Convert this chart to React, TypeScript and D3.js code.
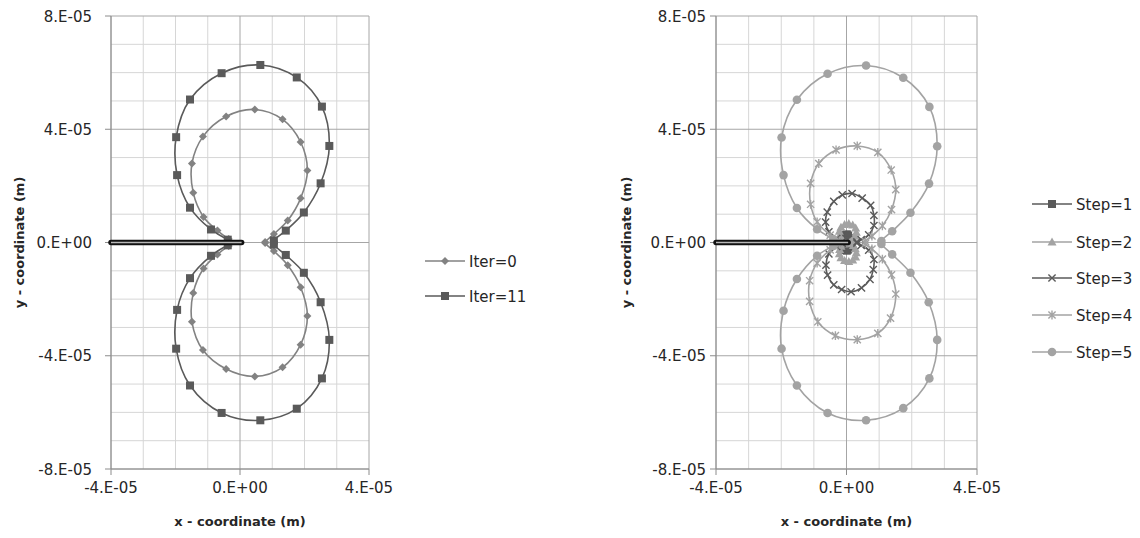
import * as d3 from 'd3';
import { useEffect, useRef } from 'react';

type Pt = [number, number];

// all coordinates are in units of 1E-05 m
const xTicks = [-4, 0, 4];
const xTickLabels = ['-4.E-05', '0.E+00', '4.E-05'];
const yTicks = [8, 4, 0, -4, -8];
const yTickLabels = ['8.E-05', '4.E-05', '0.E+00', '-4.E-05', '-8.E-05'];

const crack: Pt[] = [[-4, 0], [0.05, 0]];

const iter0: Pt[] = [
  [-0.35, 0.12], [-0.7, 0.42], [-1.13, 0.9], [-1.45, 1.76], [-1.49, 2.79], [-1.15, 3.74], [-0.43, 4.45], [0.46, 4.7],
  [1.32, 4.35], [1.88, 3.55], [2.09, 2.54], [1.88, 1.56], [1.48, 0.78], [1.05, 0.3], [0.78, 0.02],
  [0.78, -0.02], [1.05, -0.3], [1.48, -0.8], [1.88, -1.58], [2.09, -2.6], [1.88, -3.61], [1.32, -4.41], [0.46, -4.73],
  [-0.43, -4.47], [-1.15, -3.8], [-1.49, -2.8], [-1.45, -1.78], [-1.13, -0.92], [-0.7, -0.42], [-0.35, -0.12]
];

const iter11: Pt[] = [
  [-0.38, 0.1], [-0.9, 0.46], [-1.55, 1.23], [-1.95, 2.38], [-1.98, 3.72], [-1.55, 5.05], [-0.57, 5.98], [0.63, 6.27],
  [1.76, 5.83], [2.54, 4.8], [2.77, 3.41], [2.5, 2.09], [1.98, 1.06], [1.42, 0.42], [1.05, 0.07],
  [1.05, -0.07], [1.42, -0.44], [1.98, -1.07], [2.5, -2.11], [2.77, -3.44], [2.54, -4.8], [1.76, -5.87], [0.63, -6.28],
  [-0.57, -6.02], [-1.55, -5.05], [-1.98, -3.75], [-1.95, -2.38], [-1.55, -1.26], [-0.9, -0.47], [-0.38, -0.1]
];

const step1: Pt[] = [
  [-0.01, 0.01], [-0.04, 0.08], [-0.06, 0.18], [-0.04, 0.26], [0.01, 0.29], [0.05, 0.25], [0.07, 0.16], [0.05, 0.07], [0.02, 0.01],
  [0.02, -0.01], [0.05, -0.07], [0.07, -0.16], [0.05, -0.25], [0.01, -0.29], [-0.04, -0.26], [-0.06, -0.18], [-0.04, -0.08], [-0.01, -0.01]
];

const step2: Pt[] = [
  [-0.04, 0.01], [-0.1, 0.05], [-0.17, 0.13], [-0.21, 0.25], [-0.22, 0.4], [-0.17, 0.54], [-0.06, 0.64], [0.07, 0.67],
  [0.19, 0.62], [0.28, 0.51], [0.3, 0.36], [0.27, 0.22], [0.21, 0.11], [0.15, 0.04], [0.11, 0.01],
  [0.11, -0.01], [0.15, -0.04], [0.21, -0.11], [0.27, -0.22], [0.3, -0.36], [0.28, -0.51], [0.19, -0.62], [0.07, -0.67],
  [-0.06, -0.64], [-0.17, -0.54], [-0.22, -0.4], [-0.21, -0.25], [-0.17, -0.13], [-0.1, -0.05], [-0.04, -0.01]
];

const step3: Pt[] = [
  [-0.13, 0.03], [-0.3, 0.14], [-0.54, 0.38], [-0.64, 0.72], [-0.59, 1.07], [-0.39, 1.45], [-0.13, 1.68], [0.17, 1.73],
  [0.48, 1.57], [0.74, 1.31], [0.84, 0.96], [0.84, 0.6], [0.68, 0.27], [0.45, 0.1], [0.32, 0.02],
  [0.32, -0.02], [0.45, -0.1], [0.68, -0.27], [0.84, -0.6], [0.82, -0.96], [0.72, -1.3], [0.46, -1.6], [0.14, -1.74],
  [-0.15, -1.66], [-0.39, -1.5], [-0.58, -1.15], [-0.63, -0.8], [-0.54, -0.4], [-0.3, -0.14], [-0.13, -0.03]
];

const step4: Pt[] = [
  [-0.22, 0.06], [-0.5, 0.26], [-0.9, 0.73], [-1.1, 1.35], [-1.1, 2.09], [-0.85, 2.79], [-0.32, 3.27], [0.33, 3.41],
  [0.96, 3.18], [1.37, 2.56], [1.51, 1.87], [1.38, 1.16], [1.1, 0.59], [0.78, 0.23], [0.58, 0.04],
  [0.58, -0.04], [0.78, -0.23], [1.1, -0.59], [1.38, -1.14], [1.51, -1.82], [1.35, -2.67], [0.96, -3.21], [0.33, -3.43],
  [-0.34, -3.29], [-0.88, -2.8], [-1.13, -2.08], [-1.13, -1.35], [-0.9, -0.73], [-0.5, -0.26], [-0.22, -0.06]
];

const step5: Pt[] = [
  [-0.4, 0.12], [-0.9, 0.47], [-1.52, 1.22], [-1.93, 2.38], [-1.99, 3.71], [-1.52, 5.04], [-0.58, 5.96], [0.6, 6.25],
  [1.74, 5.82], [2.54, 4.79], [2.78, 3.4], [2.53, 2.08], [1.96, 1.05], [1.4, 0.4], [1.07, 0.05],
  [1.07, -0.05], [1.4, -0.42], [1.96, -1.07], [2.52, -2.11], [2.78, -3.44], [2.54, -4.8], [1.74, -5.85], [0.6, -6.28],
  [-0.58, -6.02], [-1.52, -5.05], [-1.99, -3.75], [-1.93, -2.41], [-1.52, -1.29], [-0.9, -0.47], [-0.4, -0.12]
];

type Marker = 'diamond' | 'square' | 'triangle' | 'x' | 'star' | 'circle';

interface Series {
  name: string;
  data: Pt[];
  color: string;
  marker: Marker;
}

interface ChartCfg {
  left: number;
  right: number;
  labelX: number;
  titleX: number;
  legendX: number;
  legendY: number[];
  series: Series[];
}

const DARK = '#5a5a5a';
const MID = '#828282';
const LIGHT = '#a3a3a3';

const leftChart: ChartCfg = {
  left: 111,
  right: 369,
  labelX: 92,
  titleX: 19,
  legendX: 425,
  legendY: [261, 296],
  series: [
    { name: 'Iter=0', data: iter0, color: MID, marker: 'diamond' },
    { name: 'Iter=11', data: iter11, color: DARK, marker: 'square' }
  ]
};

const rightChart: ChartCfg = {
  left: 716,
  right: 977,
  labelX: 706,
  titleX: 626,
  legendX: 1032,
  legendY: [204, 242, 278, 315, 352],
  series: [
    { name: 'Step=1', data: step1, color: DARK, marker: 'square' },
    { name: 'Step=2', data: step2, color: LIGHT, marker: 'triangle' },
    { name: 'Step=3', data: step3, color: DARK, marker: 'x' },
    { name: 'Step=4', data: step4, color: LIGHT, marker: 'star' },
    { name: 'Step=5', data: step5, color: LIGHT, marker: 'circle' }
  ]
};

const TOP = 16;
const BOTTOM = 469;
const FONT = '"DejaVu Sans", sans-serif';

function drawMarker(
  g: d3.Selection<SVGGElement, unknown, null, undefined>,
  m: Marker,
  x: number,
  y: number,
  color: string
): void {
  if (m === 'square') {
    g.append('rect').attr('x', x - 4).attr('y', y - 4).attr('width', 8).attr('height', 8).attr('fill', color);
  } else if (m === 'diamond') {
    g.append('path')
      .attr('d', `M${x},${y - 4}L${x + 4},${y}L${x},${y + 4}L${x - 4},${y}Z`)
      .attr('fill', color);
  } else if (m === 'triangle') {
    g.append('path')
      .attr('d', `M${x},${y - 4.5}L${x + 4.5},${y + 3.5}L${x - 4.5},${y + 3.5}Z`)
      .attr('fill', color);
  } else if (m === 'circle') {
    g.append('circle').attr('cx', x).attr('cy', y).attr('r', 4.3).attr('fill', color);
  } else {
    const r = 3.6;
    let d = `M${x - r},${y - r}L${x + r},${y + r}M${x - r},${y + r}L${x + r},${y - r}`;
    if (m === 'star') d += `M${x},${y - r - 0.8}L${x},${y + r + 0.8}`;
    g.append('path').attr('d', d).attr('stroke', color).attr('stroke-width', 1.4).attr('fill', 'none');
  }
}

function drawChart(svgEl: SVGSVGElement, cfg: ChartCfg): void {
  const svg = d3.select(svgEl);
  const g = svg.append('g');

  const x = d3.scaleLinear().domain([-4, 4]).range([cfg.left, cfg.right]);
  const y = d3.scaleLinear().domain([-8, 8]).range([BOTTOM, TOP]);

  // minor gridlines first, then major
  const xs = d3.range(-4, 5);
  const ys = d3.range(-8, 9);
  const isMajor = (v: number) => v % 4 === 0;

  [false, true].forEach((major) => {
    xs.filter((v) => isMajor(v) === major).forEach((v) => {
      g.append('line')
        .attr('x1', x(v)).attr('x2', x(v))
        .attr('y1', TOP).attr('y2', BOTTOM)
        .attr('stroke', major ? '#a6a6a6' : '#d6d6d6')
        .attr('stroke-width', 1);
    });
    ys.filter((v) => isMajor(v) === major).forEach((v) => {
      g.append('line')
        .attr('x1', cfg.left).attr('x2', cfg.right)
        .attr('y1', y(v)).attr('y2', y(v))
        .attr('stroke', major ? '#a6a6a6' : '#d6d6d6')
        .attr('stroke-width', 1);
    });
  });

  // axis lines + ticks
  g.append('line').attr('x1', cfg.left).attr('x2', cfg.left).attr('y1', TOP).attr('y2', BOTTOM)
    .attr('stroke', '#8c8c8c');
  g.append('line').attr('x1', cfg.left).attr('x2', cfg.right).attr('y1', BOTTOM).attr('y2', BOTTOM)
    .attr('stroke', '#8c8c8c');

  yTicks.forEach((v, i) => {
    g.append('line').attr('x1', cfg.left - 6).attr('x2', cfg.left).attr('y1', y(v)).attr('y2', y(v))
      .attr('stroke', '#8c8c8c');
    g.append('text')
      .attr('x', cfg.labelX)
      .attr('y', y(v) + 5.5)
      .attr('text-anchor', 'end')
      .attr('font-family', FONT)
      .attr('font-size', '15px')
      .attr('fill', '#262626')
      .text(yTickLabels[i]);
  });

  xTicks.forEach((v, i) => {
    g.append('line').attr('x1', x(v)).attr('x2', x(v)).attr('y1', BOTTOM).attr('y2', BOTTOM + 6)
      .attr('stroke', '#8c8c8c');
    g.append('text')
      .attr('x', x(v))
      .attr('y', 493)
      .attr('text-anchor', 'middle')
      .attr('font-family', FONT)
      .attr('font-size', '15px')
      .attr('fill', '#262626')
      .text(xTickLabels[i]);
  });

  g.append('text')
    .attr('x', (cfg.left + cfg.right) / 2)
    .attr('y', 526)
    .attr('text-anchor', 'middle')
    .attr('font-family', FONT)
    .attr('font-size', '13px')
    .attr('font-weight', 'bold')
    .attr('fill', '#262626')
    .text('x - coordinate (m)');

  g.append('text')
    .attr('transform', `translate(${cfg.titleX + 5},${(TOP + BOTTOM) / 2}) rotate(-90)`)
    .attr('text-anchor', 'middle')
    .attr('font-family', FONT)
    .attr('font-size', '13px')
    .attr('font-weight', 'bold')
    .attr('fill', '#262626')
    .text('y - coordinate (m)');

  // series
  const lineGen = d3.line<Pt>()
    .x((d) => x(d[0]))
    .y((d) => y(d[1]))
    .curve(d3.curveCatmullRom.alpha(0.5));

  cfg.series.forEach((s) => {
    g.append('path')
      .datum(s.data)
      .attr('d', lineGen)
      .attr('fill', 'none')
      .attr('stroke', s.color)
      .attr('stroke-width', 1.6);
    const mg = g.append('g');
    s.data.forEach((d) => drawMarker(mg, s.marker, x(d[0]), y(d[1]), s.color));
  });

  // crack
  const crackLine = d3.line<Pt>().x((d) => x(d[0])).y((d) => y(d[1]));
  g.append('path').datum(crack).attr('d', crackLine)
    .attr('stroke', '#111').attr('stroke-width', 5.5).attr('stroke-linecap', 'round').attr('fill', 'none');
  g.append('path').datum(crack).attr('d', crackLine)
    .attr('stroke', '#b8b8b8').attr('stroke-width', 1.5).attr('fill', 'none');

  // legend
  cfg.series.forEach((s, i) => {
    const ly = cfg.legendY[i];
    g.append('line')
      .attr('x1', cfg.legendX).attr('x2', cfg.legendX + 40)
      .attr('y1', ly).attr('y2', ly)
      .attr('stroke', s.color).attr('stroke-width', 1.6);
    drawMarker(g, s.marker, cfg.legendX + 20, ly, s.color);
    g.append('text')
      .attr('x', cfg.legendX + 44)
      .attr('y', ly + 5.5)
      .attr('font-family', FONT)
      .attr('font-size', '15px')
      .attr('fill', '#262626')
      .text(s.name);
  });
}

export default function App(): JSX.Element {
  const svgRef = useRef<SVGSVGElement | null>(null);

  useEffect(() => {
    if (!svgRef.current) return;
    svgRef.current.innerHTML = '';
    drawChart(svgRef.current, leftChart);
    drawChart(svgRef.current, rightChart);
  }, []);

  return (
    <svg
      ref={svgRef}
      width={1140}
      height={538}
      style={{ position: 'absolute', left: 0, top: 0, background: '#fff' }}
    />
  );
}
